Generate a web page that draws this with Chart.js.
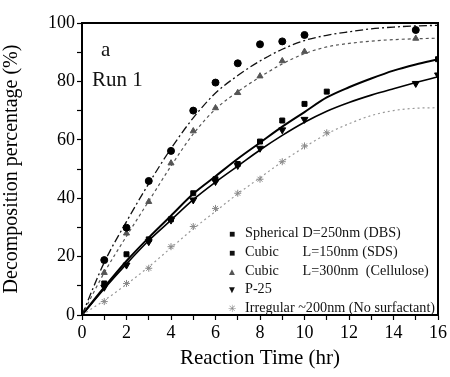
<!DOCTYPE html>
<html><head><meta charset="utf-8">
<script src="https://cdn.jsdelivr.net/npm/chart.js@4.4.0/dist/chart.umd.min.js"></script>
<style>
html,body{margin:0;padding:0;background:#fff;}
#wrap{position:relative;width:450px;height:377px;}
#legend{position:absolute;left:219px;top:224px;font-family:"Liberation Serif",serif;font-size:14.2px;line-height:17.8px;color:#111;}
#legend .row{white-space:nowrap;}
#legend .m{display:inline-block;width:26px;text-align:center;font-size:10px;}
#legend .n{display:inline-block;width:54px;}
#note{position:absolute;left:92px;top:34px;font-family:"Liberation Serif",serif;font-size:21px;line-height:30px;color:#111;}
</style></head>
<body><div id="wrap"><canvas id="c" width="450" height="377"></canvas>
<div id="note"><div style="padding-left:9px">a</div><div>Run 1</div></div>
<div id="legend">
<div class="row"><span class="m">&#9632;</span><span class="n">Spherical</span>&nbsp;D=250nm (DBS)</div>
<div class="row"><span class="m">&#9632;</span><span class="n">Cubic</span>&nbsp;L=150nm (SDS)</div>
<div class="row"><span class="m" style="color:#555">&#9650;</span><span class="n">Cubic</span>&nbsp;L=300nm&nbsp; (Cellulose)</div>
<div class="row"><span class="m">&#9660;</span><span class="n">P-25</span></div>
<div class="row"><span class="m" style="color:#888">&#10035;</span>Irregular&nbsp;~200nm&nbsp;(No surfactant)</div>
</div>
</div>
<script>
// measured points
const tA = [1,2,3,4,5,6,7,8,9,10,15];
const sphericalDBS = [18.8,29.9,45.9,56.2,70,79.6,86.2,92.7,93.7,95.9,97.6];
const tB = [1,2,3,4,5,6,7,8,9,10,15];
const cubicCellulose = [14.5,28,38.8,52,63,70.9,76.1,81.8,87,90.2,94.7];
const tC = [1,2,3,4,5,6,7,8,9,10,11,16];
const cubicSDS = [10.8,20.8,25.9,32.8,41.7,46.5,51.7,59.4,66.6,72.3,76.5,87.6];
const tD = [1,2,3,4,5,6,7,8,9,10,15,16];
const p25 = [9.5,17.1,25.1,32.5,39.4,45.7,51.2,57.1,63.4,67.0,79.3,82.2];
const tE = [1,2,3,4,5,6,7,8,9,10,11];
const irregular = [4.6,10.8,16,23.4,30.3,36.5,41.7,46.5,52.5,57.9,62.4];
// fitted curves at each hour
const fitT = [0,1,2,3,4,5,6,7,8,9,10,11,12,13,14,15,16];
const fitSpherical = [0,18,32,45,57,67.5,76,82,87,91,94,95.8,97,98,98.6,99,99.2];
const fitCellulose = [0,14.5,27,39,51,62,70.5,76.5,81.5,86,89.5,91.8,93,93.8,94.3,94.6,94.8];
const fitSDS = [0,9.5,18.5,26.5,34,41.5,47.5,53.5,59,64.5,69.5,74.5,78,81,83.7,85.8,87.6];
const fitP25 = [0,9,17.5,25.5,32.5,39.5,45.5,51,56.5,61.5,66,69.8,72.8,75.3,77.5,79.6,81.6];
const fitIrregular = [0,5,10.5,16.5,23,29.5,35.5,41.5,47,52.5,57.5,62,65.5,68.3,70,70.8,71];
const xTicks = [0,2,4,6,8,10,12,14,16];
const yTicks = [0,20,40,60,80,100];

const pts = (xs, ys) => xs.map((x,i)=>({x, y: ys[i]}));
const serif = '"Liberation Serif", "Times New Roman", serif';

function curve(ys, color, width, dash){
  return {type:'line', data: pts(fitT, ys), borderColor: color, borderWidth: width, borderDash: dash,
    pointRadius:0, tension:0.4, cubicInterpolationMode:'monotone', fill:false, order:2};
}
function marks(xs, ys, style, color, r, rot){
  return {type:'scatter', data: pts(xs, ys), pointStyle: style, backgroundColor: color, borderColor: color,
    pointRadius: r, pointRotation: rot||0, borderWidth: 1, order:1};
}

const frame = {
  id:'frame',
  afterDraw(chart){
    const {ctx, chartArea:a} = chart;
    ctx.save(); ctx.strokeStyle='#000'; ctx.lineWidth=2;
    ctx.strokeRect(a.left, a.top, a.right-a.left, a.bottom-a.top);
    ctx.restore();
  }
};

new Chart(document.getElementById('c'), {
  data: {datasets: [
    curve(fitSpherical, '#111', 1.3, [8,3,2,3]),
    curve(fitCellulose, '#555', 1.2, [3,3]),
    curve(fitSDS, '#000', 2, []),
    curve(fitP25, '#000', 1.6, []),
    curve(fitIrregular, '#999', 1.2, [2,3]),
    marks(tA, sphericalDBS, 'circle', '#000', 3.5),
    marks(tB, cubicCellulose, 'triangle', '#555', 3.5),
    marks(tC, cubicSDS, 'rect', '#000', 3.5),
    marks(tD, p25, 'triangle', '#000', 4, 180),
    marks(tE, irregular, 'star', '#888', 3.5)
  ]},
  options: {
    responsive:false, animation:false,
    layout:{padding:{left:0, right:12, top:23, bottom:6}},
    plugins:{legend:{display:false}, tooltip:{enabled:false}},
    scales:{
      x:{type:'linear', min:0, max:16,
        afterFit(s){ s.height = 56; },
        afterBuildTicks(s){ s.ticks = fitT.map(v=>({value:v})); },
        ticks:{ color:'#000', font:{family:serif, size:18}, padding:2, maxRotation:0,
          callback:(v)=> xTicks.includes(v) ? String(v) : '' },
        grid:{ drawOnChartArea:false, tickLength:5, tickColor:'#000', tickWidth:1.2 },
        border:{ color:'#000', width:2 },
        title:{ display:true, text:'Reaction Time (hr)', color:'#000', font:{family:serif, size:21}, padding:{top:0, bottom:0} }
      },
      y:{type:'linear', min:0, max:100,
        afterFit(s){ s.width = 82; },
        afterBuildTicks(s){ const t=[]; for(let v=0; v<=100; v+=10) t.push({value:v}); s.ticks=t; },
        ticks:{ color:'#000', font:{family:serif, size:18}, padding:2,
          callback:(v)=> yTicks.includes(v) ? String(v) : '' },
        grid:{ drawOnChartArea:false, tickLength:5, tickColor:'#000', tickWidth:1.2 },
        border:{ color:'#000', width:2 },
        title:{ display:true, text:'Decomposition percentage (%)', color:'#000', font:{family:serif, size:20}, padding:{top:0,bottom:4} }
      }
    }
  },
  plugins:[frame]
});
</script></body></html>
